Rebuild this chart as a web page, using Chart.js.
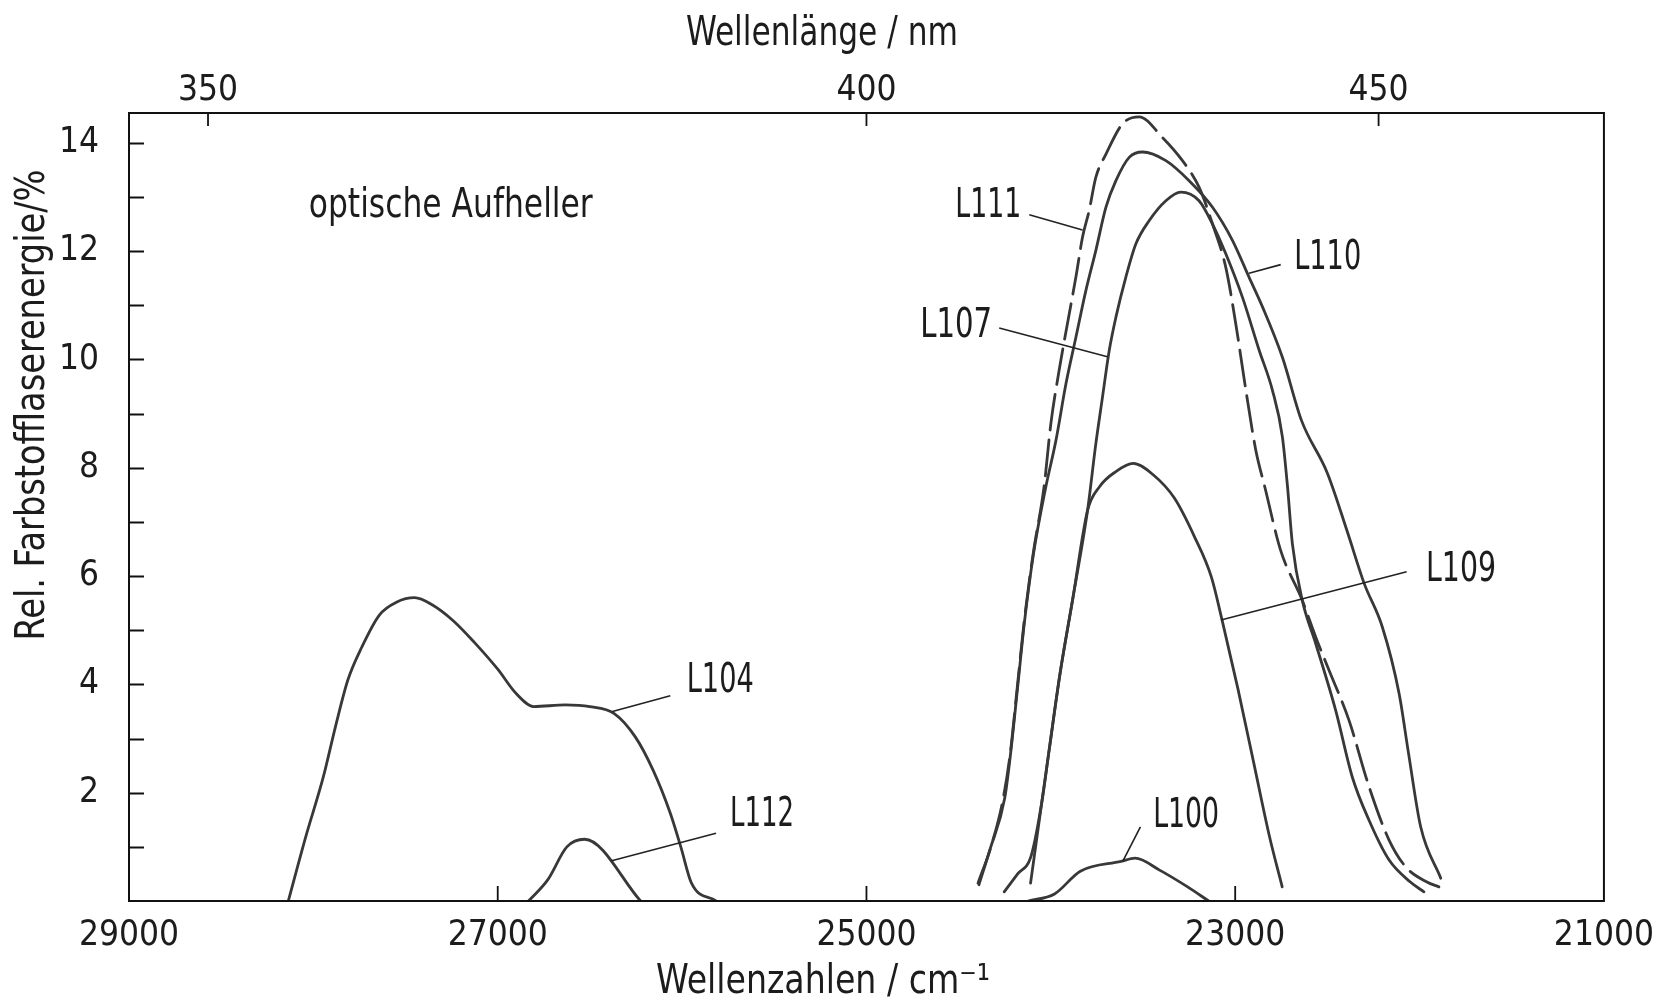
<!DOCTYPE html>
<html>
<head>
<meta charset="utf-8">
<title>Rel. Farbstofflaserenergie</title>
<script src="https://cdn.jsdelivr.net/npm/chart.js@4.4.1/dist/chart.umd.min.js"></script>
<style>
  html, body { margin: 0; padding: 0; background: #fff; }
  #wrap { width: 1660px; height: 1005px; }
</style>
</head>
<body>
<div id="wrap"><canvas id="grafico" width="1660" height="1005"></canvas></div>
<script>
// Messwerte: [Wellenzahl / cm-1, rel. Farbstofflaserenergie / %]
const L104 = [[28136,0],[28041,1.19],[27946,2.29],[27880,3.22],[27813,4.08],[27737,4.69],[27642,5.28],[27547,5.52],[27451,5.60],[27356,5.47],[27243,5.18],[27128,4.78],[27000,4.28],[26900,3.83],[26805,3.59],[26634,3.62],[26501,3.59],[26368,3.46],[26254,3.03],[26158,2.42],[26064,1.62],[26007,1.00],[25949,0.33],[25816,0]];
const L112 = [[26833,0],[26729,0.39],[26625,1.0],[26529,1.14],[26225,0]];
const L100 = [[24123,0],[23980,0.13],[23840,0.55],[23619,0.73],[23543,0.79],[23410,0.57],[23258,0.26],[23144,0]];
const L109 = [[24110,0.33],[24090,0.82],[24050,1.8],[24009,2.79],[23950,4.2],[23880,5.6],[23801,7.21],[23736,7.65],[23647,7.93],[23553,8.08],[23445,7.87],[23330,7.44],[23220,6.72],[23129,5.98],[23072,5.2],[22986,3.93],[22900,2.56],[22814,1.19],[22745,0.26]];
const L107 = [[24253,0.17],[24180,0.5],[24108,0.82],[24050,1.8],[24009,2.79],[23950,4.2],[23880,5.6],[23801,7.21],[23756,8.44],[23720,9.30],[23683,10.17],[23647,10.78],[23593,11.52],[23539,12.13],[23467,12.56],[23376,12.93],[23295,13.09],[23196,12.93],[23123,12.50],[23051,11.95],[22961,11.15],[22870,10.17],[22798,9.43],[22744,8.57],[22716,7.64],[22690,6.6],[22636,5.55],[22563,4.75],[22455,3.52],[22365,2.29],[22274,1.49],[22166,0.76],[22050,0.35],[21976,0.17]];
const L110 = [[24390,0.3],[24330,0.95],[24250,1.9],[24218,2.73],[24180,3.95],[24142,5.18],[24094,6.41],[24030,7.6],[23972,8.51],[23918,9.55],[23864,10.41],[23810,11.27],[23756,12.01],[23701,12.81],[23647,13.30],[23575,13.73],[23503,13.83],[23376,13.67],[23250,13.30],[23123,12.81],[23015,12.20],[22925,11.52],[22852,10.97],[22744,10.04],[22640,8.87],[22500,7.9],[22390,6.8],[22300,5.86],[22202,5.06],[22111,3.83],[22060,2.73],[21994,1.37],[21885,0.42]];
const L111 = [[24395,0.33],[24325,1.0],[24262,1.83],[24220,2.73],[24182,3.95],[24144,5.18],[24096,6.41],[24037,7.64],[24000,8.81],[23955,9.80],[23910,10.66],[23864,11.52],[23828,12.26],[23792,12.75],[23756,13.36],[23701,13.79],[23611,14.35],[23521,14.48],[23395,14.10],[23286,13.67],[23196,13.18],[23123,12.50],[23051,11.70],[22997,10.66],[22942,9.43],[22888,8.32],[22839,7.64],[22754,6.48],[22636,5.55],[22563,4.87],[22491,4.26],[22383,3.34],[22274,2.11],[22166,1.13],[22075,0.63],[21960,0.35],[21895,0.26]];

// Achsenbeschriftung
const wellenzahlTicks = [29000, 27000, 25000, 23000, 21000];
const wellenlaengeTicks = [350, 400, 450];
const energieTicks = [2, 4, 6, 8, 10, 12, 14];

const schrift = "'DejaVu Sans Condensed', 'Liberation Sans Narrow', sans-serif";
const farbe = '#1c1c1c';
const linie = '#383838';

function serie(name, punkte, gestrichelt) {
    return {
        label: name,
        data: punkte.map(p => ({ x: p[0], y: p[1] })),
        showLine: true,
        borderColor: linie,
        borderWidth: 2.8,
        borderDash: gestrichelt ? [36, 10] : [],
        borderCapStyle: 'round',
        borderJoinStyle: 'round',
        pointRadius: 0,
        cubicInterpolationMode: 'monotone',
        xAxisID: 'x',
        yAxisID: 'y'
    };
}

// Beschriftungen der Kurven mit Hinweislinien (Datenkoordinaten), breite = Textbreite in px
const notizen = [
    { text: 'L111', tx: 24160, ty: 12.82, align: 'right', breite: 66, von: [24117, 12.67], bis: [23828, 12.39] },
    { text: 'L110', tx: 22680, ty: 11.87, align: 'left',  breite: 67, von: [22753, 11.75], bis: [22925, 11.59] },
    { text: 'L107', tx: 24318, ty: 10.61, align: 'right', breite: 72, von: [24280, 10.58], bis: [23693, 10.05] },
    { text: 'L109', tx: 21965, ty: 6.11,  align: 'left',  breite: 70, von: [22070, 6.08],  bis: [23077, 5.19] },
    { text: 'L104', tx: 25975, ty: 4.05,  align: 'left',  breite: 67, von: [26064, 3.79],  bis: [26378, 3.50] },
    { text: 'L112', tx: 25740, ty: 1.59,  align: 'left',  breite: 64, von: [25816, 1.25],  bis: [26387, 0.74] },
    { text: 'L100', tx: 23445, ty: 1.57,  align: 'left',  breite: 66, von: [23514, 1.37],  bis: [23610, 0.73] },
    { text: 'optische Aufheller', tx: 28025, ty: 12.83, align: 'left', breite: 284 }
];

// Text schmal gezogen wie die Normschrift der Vorlage
function schmalText(ctx, text, x, y, breite, align) {
    const w = ctx.measureText(text).width;
    const sx = breite / w;
    ctx.save();
    ctx.translate(x, y);
    ctx.scale(sx, 1);
    ctx.textAlign = align;
    ctx.fillText(text, 0, 0);
    ctx.restore();
}

const rahmenPlugin = {
    id: 'rahmen',
    afterDraw(chart) {
        const ctx = chart.ctx;
        const a = chart.chartArea;
        const xs = chart.scales.x, ys = chart.scales.y;
        ctx.save();

        // Rahmen
        ctx.strokeStyle = '#111';
        ctx.lineWidth = 2;
        ctx.strokeRect(a.left, a.top, a.right - a.left, a.bottom - a.top);

        // Teilstriche nach innen
        ctx.beginPath();
        for (let v = 1; v <= 14; v++) {
            const py = Math.round(ys.getPixelForValue(v)) + 0.5;
            ctx.moveTo(a.left, py);
            ctx.lineTo(a.left + 15, py);
        }
        wellenzahlTicks.forEach(w => {
            const px = xs.getPixelForValue(w);
            if (px > a.left + 2 && px < a.right - 2) {
                ctx.moveTo(px, a.bottom);
                ctx.lineTo(px, a.bottom - 15);
            }
        });
        wellenlaengeTicks.forEach(nm => {
            const px = xs.getPixelForValue(1e7 / nm);
            ctx.moveTo(px, a.top);
            ctx.lineTo(px, a.top + 13);
        });
        ctx.lineWidth = 1.8;
        ctx.stroke();

        // Hinweislinien und Texte
        ctx.fillStyle = farbe;
        ctx.strokeStyle = '#222';
        ctx.lineWidth = 1.6;
        ctx.font = '41px ' + schrift;
        ctx.textBaseline = 'middle';
        notizen.forEach(n => {
            if (n.von) {
                ctx.beginPath();
                ctx.moveTo(xs.getPixelForValue(n.von[0]), ys.getPixelForValue(n.von[1]));
                ctx.lineTo(xs.getPixelForValue(n.bis[0]), ys.getPixelForValue(n.bis[1]));
                ctx.stroke();
            }
            schmalText(ctx, n.text, xs.getPixelForValue(n.tx), ys.getPixelForValue(n.ty), n.breite, n.align);
        });

        // Achsentitel
        schmalText(ctx, 'Wellenlänge / nm', 822, 34, 272, 'center');
        schmalText(ctx, 'Wellenzahlen / cm\u207B\u00B9', 823, 982, 334, 'center');
        ctx.translate(33, 405);
        ctx.rotate(-Math.PI / 2);
        schmalText(ctx, 'Rel. Farbstofflaserenergie/%', 0, 0, 471, 'center');
        ctx.restore();
    }
};

const tickFont = { family: schrift, size: 35 };

new Chart(document.getElementById('grafico').getContext('2d'), {
    type: 'scatter',
    data: {
        datasets: [
            serie('L104', L104),
            serie('L112', L112),
            serie('L100', L100),
            serie('L109', L109),
            serie('L107', L107),
            serie('L110', L110),
            serie('L111', L111, true)
        ]
    },
    options: {
        responsive: false,
        animation: false,
        layout: { padding: { left: 0, right: 55, top: 0, bottom: 0 } },
        plugins: { legend: { display: false }, tooltip: { enabled: false } },
        scales: {
            x: {
                type: 'linear', position: 'bottom', min: 21000, max: 29000, reverse: true,
                grid: { display: false }, border: { display: false },
                afterBuildTicks: s => { s.ticks = wellenzahlTicks.map(v => ({ value: v })); },
                ticks: { padding: 6, maxRotation: 0, autoSkip: false, font: tickFont, color: farbe, callback: v => String(v) },
                afterFit: s => { s.height = 104; }
            },
            xTop: {
                type: 'linear', position: 'top', min: 21000, max: 29000, reverse: true,
                grid: { display: false }, border: { display: false },
                afterBuildTicks: s => { s.ticks = wellenlaengeTicks.map(nm => ({ value: 1e7 / nm })); },
                ticks: { padding: -7, maxRotation: 0, autoSkip: false, font: tickFont, color: farbe, callback: v => String(Math.round(1e7 / v)) },
                afterFit: s => { s.height = 113; }
            },
            y: {
                type: 'linear', position: 'left', min: 0, max: 14.55,
                grid: { display: false }, border: { display: false },
                afterBuildTicks: s => { s.ticks = energieTicks.map(v => ({ value: v })); },
                ticks: { padding: 22, font: tickFont, color: farbe },
                afterFit: s => { s.width = 129; }
            }
        }
    },
    plugins: [rahmenPlugin]
});
</script>
</body>
</html>
